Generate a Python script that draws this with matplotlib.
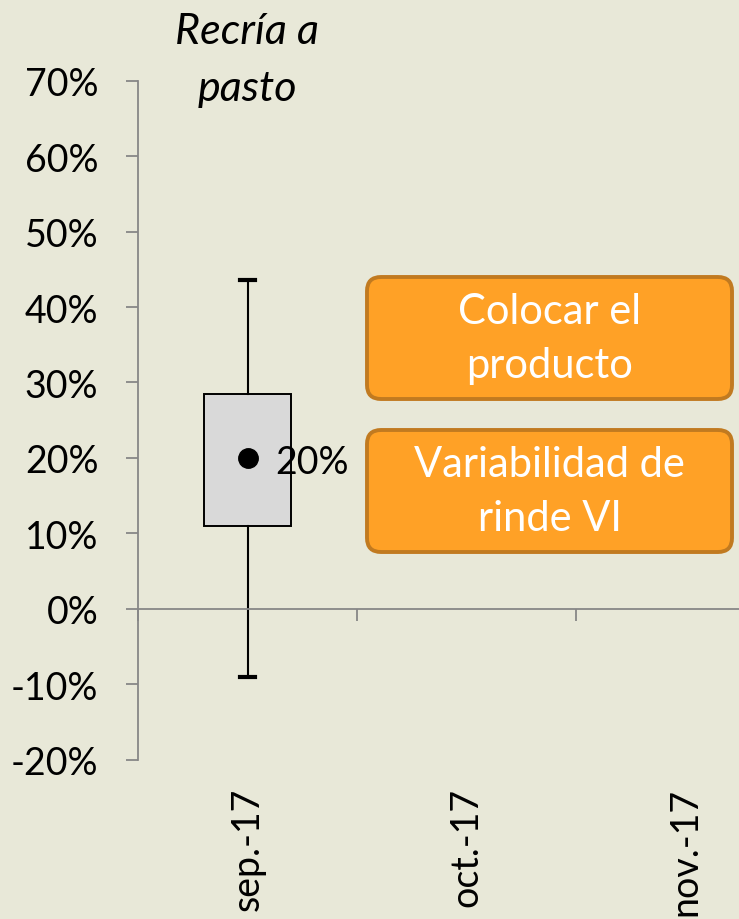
import matplotlib
matplotlib.use("Agg")
import matplotlib.pyplot as plt
from matplotlib.patches import FancyBboxPatch
from matplotlib.ticker import FuncFormatter, FixedLocator

plt.rcParams['font.family'] = ['Lato', 'DejaVu Sans']

# ---- data ----
categories = ["sep.-17", "oct.-17", "nov.-17"]
whisker_low = [-9.1]
q1 = [11.0]
q3 = [28.5]
whisker_high = [43.6]
mean = [20.0]
title_lines = ["Recría a", "pasto"]
box_texts = ["Colocar el\nproducto", "Variabilidad de\nrinde VI"]
y_ticks = [-20, -10, 0, 10, 20, 30, 40, 50, 60, 70]

BG = '#E8E8D8'
W, H = 739, 920
fig = plt.figure(figsize=(W / 100, H / 100), dpi=100, facecolor=BG)

ax_left, ax_right = 138, 138 + 3 * 219
ax_top, ax_bot = 81.7, 760.7
ax = fig.add_axes([ax_left / W, 1 - ax_bot / H, (ax_right - ax_left) / W, (ax_bot - ax_top) / H])
ax.set_facecolor(BG)
ax.set_xlim(-0.5, 2.5)
ax.set_ylim(-20, 70)

stats = []
for i in range(len(q1)):
    stats.append(dict(whislo=whisker_low[i], q1=q1[i], med=mean[i], q3=q3[i],
                      whishi=whisker_high[i], mean=mean[i], fliers=[]))
ax.bxp(stats, positions=list(range(len(stats))), widths=0.4, patch_artist=True,
       showmeans=True, showfliers=False, manage_ticks=False,
       boxprops=dict(facecolor='#D9D9D9', edgecolor='black', linewidth=1.4),
       whiskerprops=dict(color='black', linewidth=1.5),
       capprops=dict(color='black', linewidth=3),
       capwidths=0.07,
       medianprops=dict(linewidth=0),
       meanprops=dict(marker='o', markerfacecolor='black', markeredgecolor='black', markersize=14))

for i, m in enumerate(mean):
    ax.annotate(f"{m:.0f}%", xy=(i, m), xytext=(20, -3), textcoords='offset points',
                ha='left', va='center', fontsize=27, color='black')

# axes styling
gray = '#878787'
for s in ['top', 'right']:
    ax.spines[s].set_visible(False)
ax.spines['left'].set_color(gray)
ax.spines['left'].set_linewidth(1.3)
ax.spines['bottom'].set_position(('data', 0))
ax.spines['bottom'].set_color(gray)
ax.spines['bottom'].set_linewidth(1.3)

ax.yaxis.set_major_locator(FixedLocator(y_ticks))
ax.yaxis.set_major_formatter(FuncFormatter(lambda v, p: f"{v:.0f}%"))
ax.tick_params(axis='y', direction='out', length=8.6, width=1.3, color=gray,
               labelsize=27, pad=20)

ax.set_xticks(range(len(categories)))
ax.set_xticklabels(categories, rotation=90, fontsize=27)
ax.set_xticks([-0.5, 0.5, 1.5, 2.5], minor=True)
ax.tick_params(axis='x', which='major', length=0, pad=128)
ax.tick_params(axis='x', which='minor', direction='out', length=8.6, width=1.3, color=gray)
for lbl in ax.get_xticklabels():
    lbl.set_va('top')
    lbl.set_ha('center')

# title
fig.text(247 / W, 1 - 32 / H, title_lines[0], ha='center', va='center', fontsize=31,
         style='italic', color='black')
fig.text(247 / W, 1 - 89 / H, title_lines[1], ha='center', va='center', fontsize=31,
         style='italic', color='black')

# orange boxes
boxes = [(367, 278, 732, 400), (367, 431, 732, 553)]
for (x0, y0, x1, y1), txt in zip(boxes, box_texts):
    r = 14
    p = FancyBboxPatch((x0 / W, 1 - y1 / H), (x1 - x0) / W, (y1 - y0) / H,
                       boxstyle=f"round,pad=0,rounding_size={r / W}",
                       transform=fig.transFigure, facecolor='#FFA126',
                       edgecolor='#C17A20', linewidth=2.8, mutation_aspect=W / H)
    fig.add_artist(p)
    fig.text((x0 + x1) / 2 / W, 1 - (y0 + y1) / 2 / H, txt, ha='center', va='center',
             fontsize=30, color='white', linespacing=1.5)

fig.savefig('out.png', dpi=100, facecolor=BG)
